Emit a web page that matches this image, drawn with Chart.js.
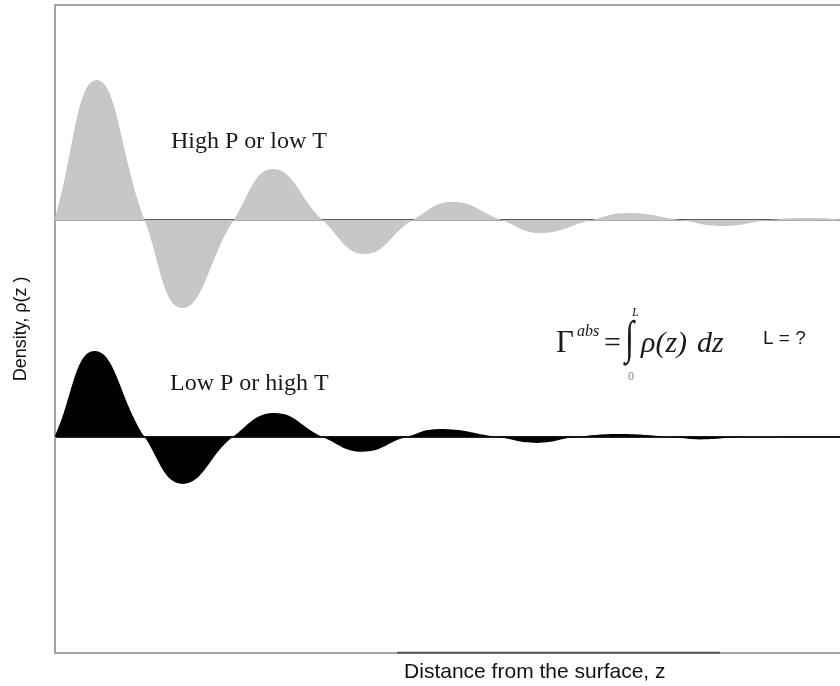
<!DOCTYPE html>
<html>
<head>
<meta charset="utf-8">
<script src="https://cdn.jsdelivr.net/npm/chart.js@4.4.1/dist/chart.umd.min.js"></script>
<style>
  html, body { margin: 0; padding: 0; background: #fff; overflow: hidden; }
  #wrap { position: relative; width: 1018px; height: 686px; }
</style>
</head>
<body>
<div id="wrap"><canvas id="grafico_densidad"></canvas></div>
<script>
// perfiles de densidad (unidades arbitrarias): ceros y extremos
const highPDistance = [0, 0.535, 1.146, 1.63, 2.28, 2.78, 3.41, 3.95, 4.56, 5.07, 5.69, 6.18, 6.84, 7.30, 7.96, 8.50, 9.11, 9.62, 10.2, 10.8];
const highPDensity = [0, 1.0, 0, -0.629, 0, 0.364, 0, -0.243, 0, 0.129, 0, -0.093, 0, 0.05, 0, -0.043, 0, 0.014, 0, 0];

const lowPDistance = [0, 0.51, 1.146, 1.63, 2.27, 2.80, 3.41, 3.92, 4.48, 4.90, 5.63, 6.14, 6.65, 7.20, 7.83, 8.22, 8.85, 10.8];
const lowPDensity = [0, 0.614, 0, -0.336, 0, 0.171, 0, -0.107, 0, 0.057, 0, -0.043, 0, 0.021, 0, -0.018, 0, 0];

const seriesLabels = ["High P or low T", "Low P or high T"];
const axisTitles = ["Distance from the surface, z", "Density, \u03C1(z )"];

const toPoints = (xs, ys) => xs.map((x, i) => ({ x: x, y: ys[i] }));
const onlyZero = (axis) => { axis.ticks = [{ value: 0 }]; };

// textos dentro del grafico
const textos = {
  id: "textos",
  afterDraw(chart) {
    const ctx = chart.ctx;
    ctx.save();
    ctx.textAlign = "left";
    ctx.textBaseline = "alphabetic";
    ctx.fillStyle = "#1a1a1a";

    ctx.font = '24px "Liberation Serif", "Times New Roman", serif';
    ctx.fillText(seriesLabels[0], 171, 148);
    ctx.fillText(seriesLabels[1], 170, 390);

    // formula
    const serif = '"Liberation Serif", "Times New Roman", serif';
    ctx.font = "31px " + serif;
    ctx.fillText("\u0393", 556, 352);
    ctx.font = "italic 16px " + serif;
    ctx.fillText("abs", 577, 336);
    ctx.font = "30px " + serif;
    ctx.fillText("=", 604, 352);
    ctx.save();
    ctx.translate(625, 341);
    ctx.scale(1.1, 1.55);
    ctx.textBaseline = "middle";
    ctx.font = "30px " + serif;
    ctx.fillText("\u222B", 0, 0);
    ctx.restore();
    ctx.font = "italic 12px " + serif;
    ctx.fillText("L", 632, 316);
    ctx.fillStyle = "#8a8a8a";
    ctx.font = "12px " + serif;
    ctx.fillText("0", 628, 380);
    ctx.fillStyle = "#1a1a1a";
    ctx.font = "italic 30px " + serif;
    ctx.fillText("\u03C1(z)", 641, 352);
    ctx.fillText("dz", 697, 352);

    ctx.font = '19px "Liberation Sans", Arial, sans-serif';
    ctx.fillText("L = ?", 763, 344);

    // tramo oscuro sobre el eje inferior
    const a = chart.chartArea;
    ctx.strokeStyle = "#555";
    ctx.lineWidth = 2;
    ctx.beginPath();
    ctx.moveTo(397, a.bottom);
    ctx.lineTo(720, a.bottom);
    ctx.stroke();
    ctx.restore();
  },
};

const canvas = document.querySelector("#grafico_densidad");
new Chart(canvas.getContext("2d"), {
  type: "line",
  data: {
    datasets: [
      {
        label: seriesLabels[0],
        data: toPoints(highPDistance, highPDensity),
        yAxisID: "yHigh",
        backgroundColor: "#c7c7c7",
        borderWidth: 0,
        borderColor: "rgba(0,0,0,0)",
        fill: "origin",
        pointRadius: 0,
        tension: 0.45,
      },
      {
        label: seriesLabels[1],
        data: toPoints(lowPDistance, lowPDensity),
        yAxisID: "yLow",
        backgroundColor: "#000",
        borderWidth: 0,
        borderColor: "rgba(0,0,0,0)",
        fill: "origin",
        pointRadius: 0,
        tension: 0.45,
      },
    ],
  },
  options: {
    responsive: true,
    maintainAspectRatio: false,
    animation: false,
    layout: { padding: { top: 5, right: 3, bottom: 0, left: 0 } },
    plugins: {
      legend: { display: false },
      tooltip: { enabled: false },
    },
    scales: {
      x: {
        type: "linear",
        min: 0,
        max: 12.23,
        ticks: { display: false },
        grid: { display: false, drawTicks: false },
        border: { display: true, color: "#a3a3a3", width: 2 },
        title: {
          display: true,
          text: axisTitles[0],
          color: "#111",
          font: { family: '"Liberation Sans", Arial, sans-serif', size: 21 },
          padding: { top: 7, bottom: 1 },
        },
      },
      xTop: {
        type: "linear",
        position: "top",
        min: 0,
        max: 12.23,
        ticks: { display: false },
        grid: { display: false, drawTicks: false },
        border: { display: true, color: "#a3a3a3", width: 2 },
      },
      yHigh: {
        position: "left",
        min: -3.093,
        max: 1.536,
        afterBuildTicks: onlyZero,
        ticks: { display: false },
        grid: { color: "#5a5a5a", lineWidth: 1.5, drawTicks: false },
        border: { display: true, color: "#a3a3a3", width: 2 },
        title: {
          display: true,
          text: axisTitles[1],
          color: "#111",
          font: { family: '"Liberation Sans", Arial, sans-serif', size: 18 },
          padding: { top: 10, bottom: 23 },
        },
      },
      yLow: {
        position: "right",
        min: -1.543,
        max: 3.086,
        afterBuildTicks: onlyZero,
        ticks: { display: false },
        grid: { color: "#222", lineWidth: 2, drawTicks: false },
        border: { display: false },
      },
    },
  },
  plugins: [textos],
});
</script>
</body>
</html>
